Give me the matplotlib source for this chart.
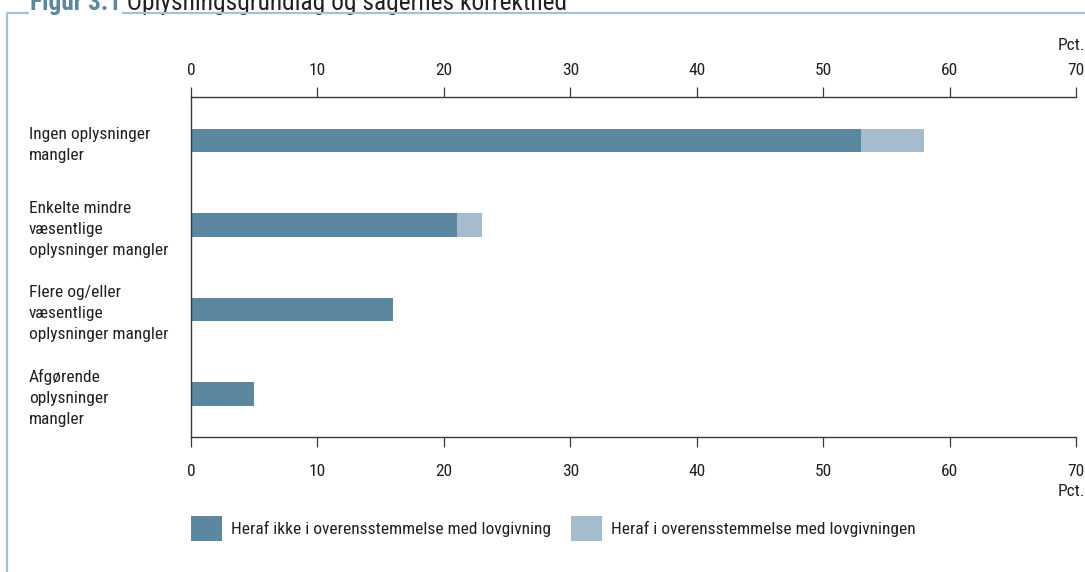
import matplotlib.pyplot as plt
from matplotlib.lines import Line2D

plt.rcParams['font.family'] = ['Roboto Condensed', 'Archivo Narrow', 'DejaVu Sans']

categories = [
    "Ingen oplysninger\nmangler",
    "Enkelte mindre\nvæsentlige\noplysninger mangler",
    "Flere og/eller\nvæsentlige\noplysninger mangler",
    "Afgørende\noplysninger\nmangler",
]
not_compliant = [53, 21, 16, 5]
compliant = [5, 2, 0, 0]
legend_labels = ["Heraf ikke i overensstemmelse med lovgivning",
                 "Heraf i overensstemmelse med lovgivningen"]
ticks = [0, 10, 20, 30, 40, 50, 60, 70]

DARK = "#5b87a0"
LIGHT = "#a5bccf"
FRAME = "#a9c0d2"
TEXT = "#231f20"
FS = 12.5

W, H = 1085, 572
fig = plt.figure(figsize=(W / 100, H / 100), dpi=100)
ax = fig.add_axes([191 / W, 1 - 437 / H, (1076 - 191) / W, (437 - 97) / H])

pos = list(range(len(categories)))
b1 = ax.barh(pos, not_compliant, height=0.275, color=DARK, label=legend_labels[0])
b2 = ax.barh(pos, compliant, left=not_compliant, height=0.275, color=LIGHT,
             label=legend_labels[1])

ax.set_xlim(0, 70)
ax.set_ylim(3.51, -0.515)

for side in ["top", "bottom", "left"]:
    ax.spines[side].set_color("#3a3a3a")
    ax.spines[side].set_linewidth(1.0)
ax.spines["right"].set_visible(False)

# bottom axis
ax.set_xticks(ticks)
ax.tick_params(axis="x", direction="out", length=7.5, width=0.9, color="#3a3a3a",
               labelsize=FS, labelcolor=TEXT, pad=12)

# top axis
top = ax.secondary_xaxis("top")
top.set_xticks(ticks)
top.spines["top"].set_visible(False)
top.tick_params(axis="x", direction="out", length=7.5, width=0.9, color="#3a3a3a",
                labelsize=FS, labelcolor=TEXT, pad=6)

# category labels on the left
ax.set_yticks(pos)
ax.set_yticklabels(categories, fontsize=FS, color=TEXT, linespacing=1.5)
ax.tick_params(axis="y", length=0, pad=(191 - 29) * 0.72)
for lab in ax.get_yticklabels():
    lab.set_ha("left")

fig.text(1085 / W, 1 - 45 / H, "Pct.", ha="right", va="center", fontsize=FS, color=TEXT)
fig.text(1085 / W, 1 - 491 / H, "Pct.", ha="right", va="center", fontsize=FS, color=TEXT)

fig.legend(handles=[b1, b2], loc="center left", bbox_to_anchor=(191 / W, 1 - 528.5 / H),
           ncol=2, frameon=False, fontsize=FS, borderpad=0, borderaxespad=0,
           handlelength=1.78, handleheight=1.78, handletextpad=0.5, columnspacing=1.2,
           labelcolor=TEXT)

# frame around the figure
fig.add_artist(Line2D([7 / W, 7 / W, 1], [0, 1 - 13 / H, 1 - 13 / H],
                      transform=fig.transFigure, color=FRAME, lw=1.6))

t1 = fig.text(30 / W, 1 - 10 / H, "Figur 3.1", fontsize=18.3, weight="bold", color=DARK,
              va="baseline", bbox=dict(facecolor="white", edgecolor="none", pad=1))
ax.annotate(" Oplysningsgrundlag og sagernes korrekthed", xy=(1, 0), xycoords=t1,
            ha="left", va="bottom", fontsize=18.3, color=TEXT, annotation_clip=False,
            bbox=dict(facecolor="white", edgecolor="none", pad=1))

fig.savefig("out.png", dpi=100)
